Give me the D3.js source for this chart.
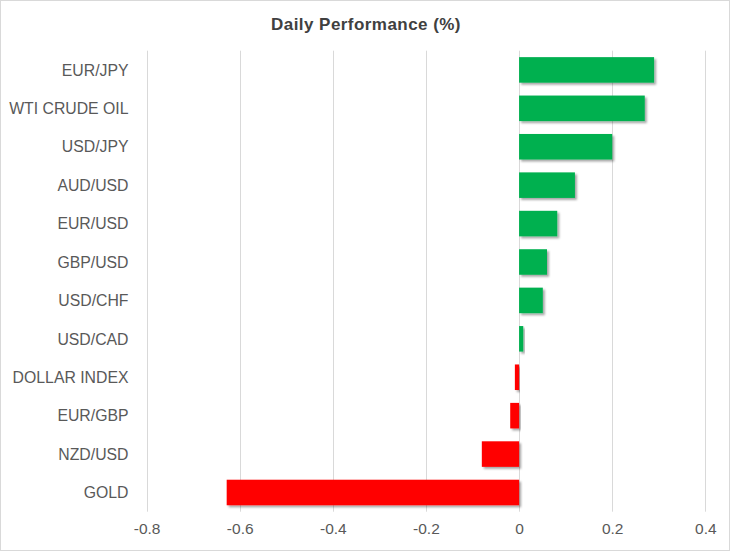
<!DOCTYPE html>
<html>
<head>
<meta charset="utf-8">
<script src="https://cdn.jsdelivr.net/npm/d3@7"></script>
<style>
  body { margin: 0; background: #fff; }
  text { font-family: "Liberation Sans", Arial, sans-serif; }
</style>
</head>
<body>
<script>
var width = 730, height = 551;

// data
const categories = ["EUR/JPY", "WTI CRUDE OIL", "USD/JPY", "AUD/USD", "EUR/USD", "GBP/USD",
  "USD/CHF", "USD/CAD", "DOLLAR INDEX", "EUR/GBP", "NZD/USD", "GOLD"];
const values = [0.29, 0.27, 0.2, 0.12, 0.082, 0.06, 0.051, 0.009, -0.009, -0.019, -0.08, -0.628];
const ticks = [-0.8, -0.6, -0.4, -0.2, 0, 0.2, 0.4];

const x = d3.scaleLinear().domain([-0.8, 0.4]).range([146.6, 705.3]);
const y = d3.scaleBand().domain(categories).range([50.7, 511.7])
  .paddingInner(0.335).paddingOuter(0.1675);

var svg = d3.select("body").append("svg")
  .attr("width", width)
  .attr("height", height);

svg.append("rect")
  .attr("x", 0.5).attr("y", 0.5)
  .attr("width", width - 1).attr("height", height - 1)
  .attr("fill", "#fff")
  .attr("stroke", "#d9d9d9");

var defs = svg.append("defs");
var f = defs.append("filter").attr("id", "shadow")
  .attr("x", "-10%").attr("y", "-20%").attr("width", "130%").attr("height", "160%");
f.append("feDropShadow")
  .attr("dx", 2).attr("dy", 2).attr("stdDeviation", 1.3)
  .attr("flood-color", "#000").attr("flood-opacity", 0.35);

svg.append("text")
  .attr("x", 366).attr("y", 30)
  .attr("text-anchor", "middle")
  .attr("font-size", 17)
  .attr("font-weight", "bold")
  .attr("letter-spacing", 0.45)
  .attr("fill", "#404040")
  .text("Daily Performance (%)");

// grid
svg.append("g")
  .selectAll("line")
  .data(ticks)
  .join("line")
  .attr("x1", d => Math.round(x(d)) + 0.5)
  .attr("x2", d => Math.round(x(d)) + 0.5)
  .attr("y1", 50.7)
  .attr("y2", 511.7)
  .attr("stroke", "#d9d9d9");

// x axis labels (plain hyphen minus like the original)
var xAxis = svg.append("g")
  .attr("transform", "translate(0,528)")
  .call(d3.axisBottom(x).tickValues(ticks).tickSize(0).tickPadding(0)
    .tickFormat(d => String(+d.toFixed(1))));
xAxis.select(".domain").remove();
xAxis.selectAll("text")
  .attr("font-size", 15.5)
  .attr("font-family", "Liberation Sans, Arial, sans-serif")
  .attr("fill", "#595959")
  .attr("dy", "0.36em");

// bars
svg.append("g")
  .selectAll("rect")
  .data(values)
  .join("rect")
  .attr("x", d => x(Math.min(0, d)))
  .attr("y", (d, i) => y(categories[i]))
  .attr("width", d => Math.abs(x(d) - x(0)))
  .attr("height", y.bandwidth())
  .attr("fill", d => d >= 0 ? "#00b050" : "#ff0000")
  .attr("filter", "url(#shadow)");

// category labels
svg.append("g")
  .selectAll("text")
  .data(categories)
  .join("text")
  .attr("x", 128.5)
  .attr("y", d => y(d) + y.bandwidth() / 2)
  .attr("dy", "0.36em")
  .attr("text-anchor", "end")
  .attr("font-size", 15.8)
  .attr("fill", "#595959")
  .text(d => d);
</script>
</body>
</html>
